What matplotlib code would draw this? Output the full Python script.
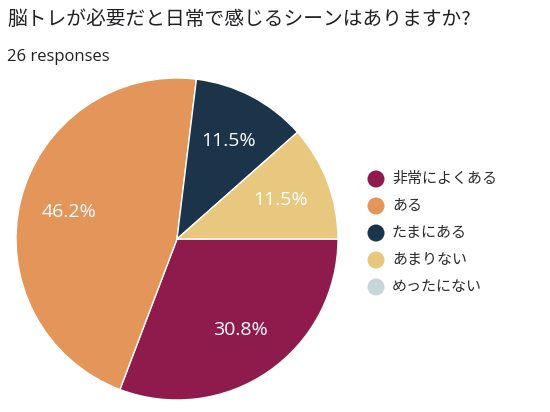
import matplotlib
matplotlib.use("Agg")
import matplotlib.pyplot as plt

plt.rcParams['font.family'] = ['Open Sans', 'Noto Sans CJK JP', 'DejaVu Sans']

title = "脳トレが必要だと日常で感じるシーンはありますか?"
subtitle = "26 responses"
categories = ["非常によくある", "ある", "たまにある", "あまりない", "めったにない"]
counts = [8, 12, 3, 3, 0]
colors = ["#8E1B4C", "#E4955A", "#1B344A", "#E8C87E", "#C7D6D6"]

W, H = 550, 412
fig = plt.figure(figsize=(W / 100, H / 100), dpi=100)

cx, cy, r = 177, 239, 161
ax = fig.add_axes([(cx - r) / W, (H - cy - r) / H, 2 * r / W, 2 * r / H])
vals = [c for c in counts if c > 0]
cols = [col for c, col in zip(counts, colors) if c > 0]
wedges, texts, autotexts = ax.pie(
    vals, colors=cols, startangle=0, counterclock=False,
    autopct=lambda p: f"{p:.1f}%", pctdistance=0.69,
    wedgeprops=dict(edgecolor="white", linewidth=1),
    textprops=dict(color="white", fontsize=14),
)
ax.set_xlim(-1, 1)
ax.set_ylim(-1, 1)
ax.set_aspect("equal")
ax.axis("off")

ov = fig.add_axes([0, 0, 1, 1], facecolor="none")
ov.set_xlim(0, W)
ov.set_ylim(H, 0)
ov.axis("off")

fig.text(7 / W, 1 - 19 / H, title, fontsize=14.2, color="#202124",
         va="center", ha="left", family=['Noto Sans CJK JP'])
fig.text(7 / W, 1 - 57 / H, subtitle, fontsize=12, color="#202124",
         va="center", ha="left")

y0, dy = 179, 27
for i, (cat, col) in enumerate(zip(categories, colors)):
    y = y0 + i * dy
    ov.scatter([376], [y], s=150, color=col, edgecolors="none")
    ov.text(392, y, cat, fontsize=10.8, color="#2a2a2a", va="center", ha="left",
            family=['Noto Sans CJK JP'])

fig.savefig("out.png", dpi=100, facecolor="white")
